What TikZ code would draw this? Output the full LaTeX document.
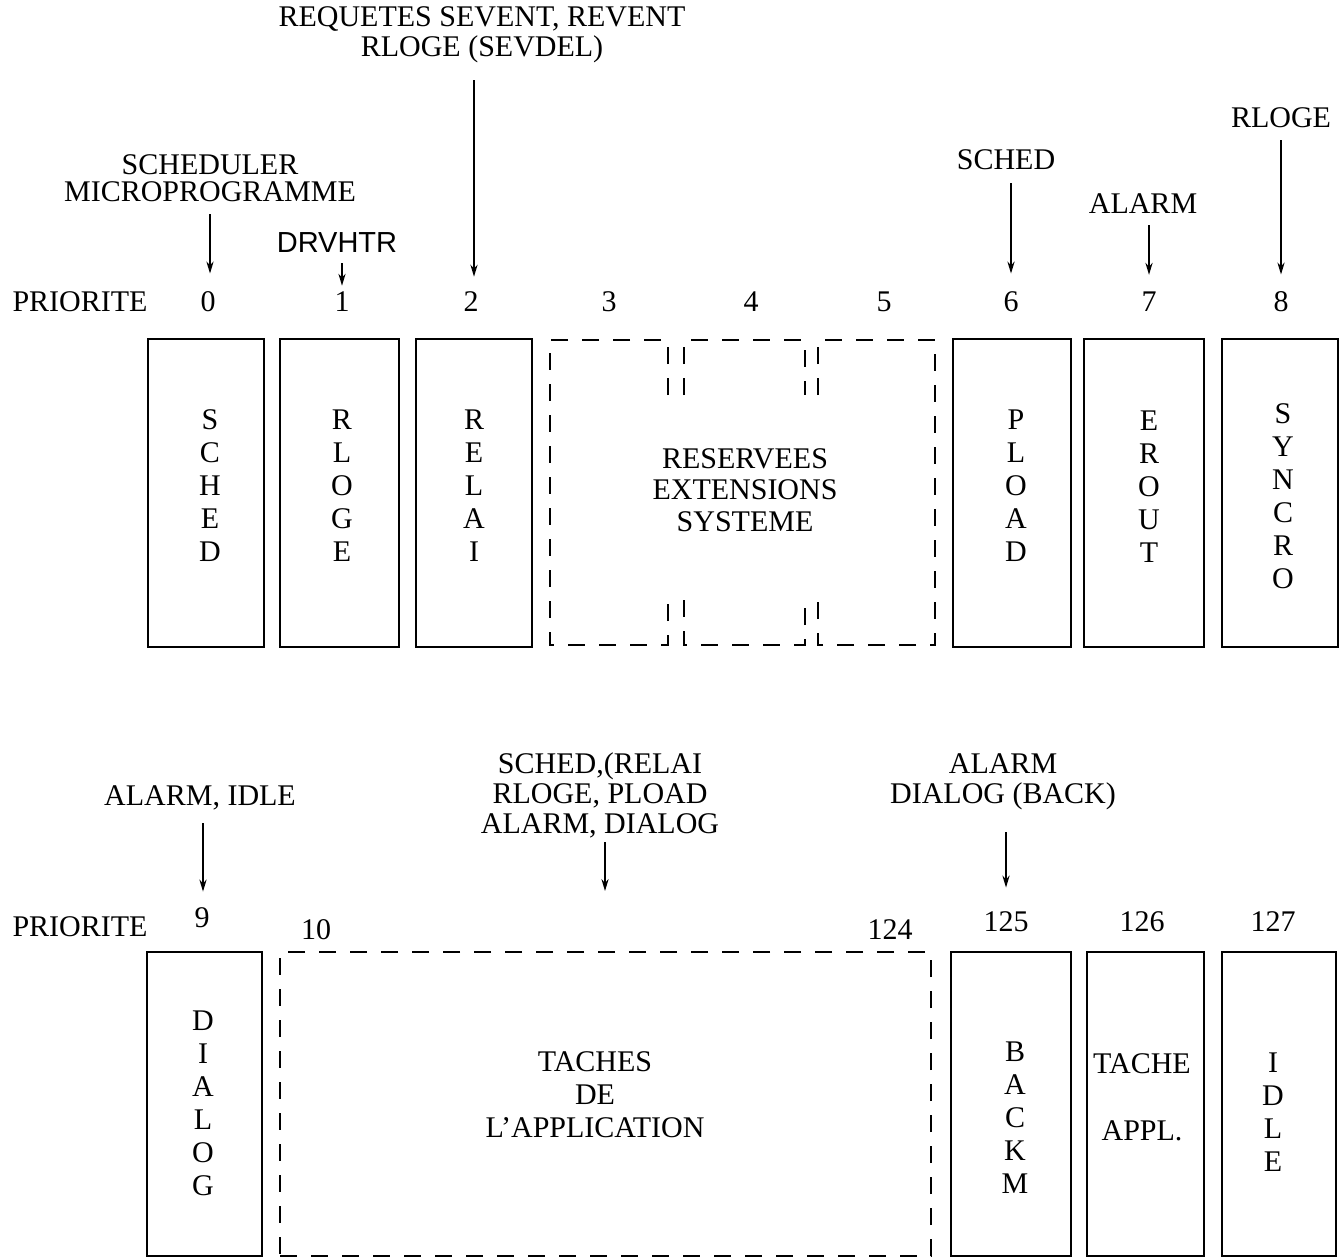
\documentclass[tikz,border=0pt]{standalone}
\usepackage{fontspec}
\setmainfont{Liberation Serif}
\newfontfamily\drvfont{Liberation Sans}
\usetikzlibrary{arrows.meta,fit}
\begin{document}
\begin{tikzpicture}[x=0.5pt,y=-0.5pt,
  box/.style={draw, line width=1pt, inner sep=0pt},
  dbox/.style={draw, line width=1pt, dash pattern=on 8.5pt off 7pt},
  lbl/.style={font=\fontsize{15}{15}\selectfont, align=center, inner sep=0pt},
  vtxt/.style={font=\fontsize{15}{16.5}\selectfont, align=center, inner sep=0pt},
  arr/.style={line width=0.7pt, -{Stealth[length=6pt,width=3.6pt]}},
]
\useasboundingbox (0,0) rectangle (1342,1259);

% ---------- top row labels ----------
\node[lbl] (lq) at (482,35) {REQUETES SEVENT, REVENT\\RLOGE (SEVDEL)};
\node[lbl, font=\fontsize{15}{13.5}\selectfont] (lsch) at (210,178) {SCHEDULER\\MICROPROGRAMME};
\node[lbl, font=\fontsize{14.5}{14.5}\drvfont] (ldrv) at (337,243) {DRVHTR};
\node[lbl] (lsched) at (1006,160) {SCHED};
\node[lbl] (lalarm) at (1143,204) {ALARM};
\node[lbl] (lrloge) at (1281,118) {RLOGE};

\node[lbl] (pr1) at (80,302) {PRIORITE};
\node[lbl] (n0) at (208,302) {0};
\node[lbl] (n1) at (342,302) {1};
\node[lbl] (n2) at (471,302) {2};
\node[lbl] (n3) at (609,302) {3};
\node[lbl] (n4) at (751,302) {4};
\node[lbl] (n5) at (884,302) {5};
\node[lbl] (n6) at (1011,302) {6};
\node[lbl] (n7) at (1149,302) {7};
\node[lbl] (n8) at (1281,302) {8};

\coordinate (s0) at (210,214);
\coordinate (s1) at (342,263);
\coordinate (s2) at (474,80);
\coordinate (s6) at (1011,183);
\coordinate (s7) at (1149,225);
\coordinate (s8) at (1281,140);
\draw[arr, shorten >=9pt] (s0) -- (s0 |- n0.north);
\draw[arr, shorten >=3pt] (s1) -- (s1 |- n1.north);
\draw[arr, shorten >=7.5pt] (s2) -- (s2 |- n2.north);
\draw[arr, shorten >=9pt] (s6) -- (s6 |- n6.north);
\draw[arr, shorten >=8.5pt] (s7) -- (s7 |- n7.north);
\draw[arr, shorten >=8.5pt] (s8) -- (s8 |- n8.north);

% ---------- top row boxes ----------
\node[box, fit={(148,339) (264,647)}] (b0) {};
\node[box, fit={(280,339) (399,647)}] (b1) {};
\node[box, fit={(416,339) (532,647)}] (b2) {};
\node[box, fit={(953,339) (1071,647)}] (b6) {};
\node[box, fit={(1084,339) (1204,647)}] (b7) {};
\node[box, fit={(1222,339) (1338,647)}] (b8) {};

\node[vtxt] (t0) at (210,486) {S\\C\\H\\E\\D};
\node[vtxt] (t1) at (342,486) {R\\L\\O\\G\\E};
\node[vtxt] (t2) at (474,486) {R\\E\\L\\A\\I};
\node[vtxt] (t6) at (1016,486) {P\\L\\O\\A\\D};
\node[vtxt] (t7) at (1149,487) {E\\R\\O\\U\\T};
\node[vtxt] (t8) at (1283,496) {S\\Y\\N\\C\\R\\O};

% reserved (dashed) area
\draw[dbox] (668,395) -- (668,340) -- (550,340) -- (550,645) -- (668,645) -- (668,600);
\draw[dbox] (684,395) -- (684,340) -- (805,340) -- (805,395);
\draw[dbox] (684,600) -- (684,645) -- (805,645) -- (805,600);
\draw[dbox] (818,395) -- (818,340) -- (935,340) -- (935,645) -- (818,645) -- (818,600);
\node[vtxt, font=\fontsize{15}{15.75}\selectfont] (tres) at (745,490) {RESERVEES\\EXTENSIONS\\SYSTEME};

% ---------- bottom row labels ----------
\node[lbl] (lai) at (200,798) {ALARM, IDLE};
\node[lbl] (lsr) at (600,795) {SCHED,(RELAI\\RLOGE, PLOAD\\ALARM, DIALOG};
\node[lbl] (lad) at (1003,782) {ALARM\\DIALOG (BACK)};

\node[lbl] (pr2) at (80,927) {PRIORITE};
\node[lbl] (n9) at (202,918) {9};
\node[lbl] (n10) at (316,930) {10};
\node[lbl] (n124) at (890,930) {124};
\node[lbl] (n125) at (1006,922) {125};
\node[lbl] (n126) at (1142,922) {126};
\node[lbl] (n127) at (1273,922) {127};

% ---------- bottom row boxes ----------
\node[box, fit={(147,952) (262,1256)}] (b9) {};
\node[dbox, inner sep=0pt, fit={(280,952) (931,1256)}] (tb) {};
\node[box, fit={(951,952) (1071,1256)}] (b125) {};
\node[box, fit={(1087,952) (1204,1256)}] (b126) {};
\node[box, fit={(1222,952) (1336,1256)}] (b127) {};

\coordinate (s9) at (203,823);
\coordinate (sa) at (605,842);
\coordinate (s125) at (1006,832);
\draw[arr, shorten >=8pt] (s9) -- (s9 |- n9.north);
\draw[arr, shorten >=30pt] (sa) -- (sa |- tb.north);
\draw[arr, shorten >=12pt] (s125) -- (s125 |- n125.north);

\node[vtxt] (t9) at (203,1103) {D\\I\\A\\L\\O\\G};
\node[vtxt] (ttb) at (595,1095) {TACHES\\DE\\L'APPLICATION};
\node[vtxt] (t125) at (1015,1118) {B\\A\\C\\K\\M};
\node[vtxt] (t126) at (1142,1097) {TACHE\\[17pt]APPL.};
\node[vtxt] (t127) at (1273,1112) {I\\D\\L\\E};
\end{tikzpicture}
\end{document}
